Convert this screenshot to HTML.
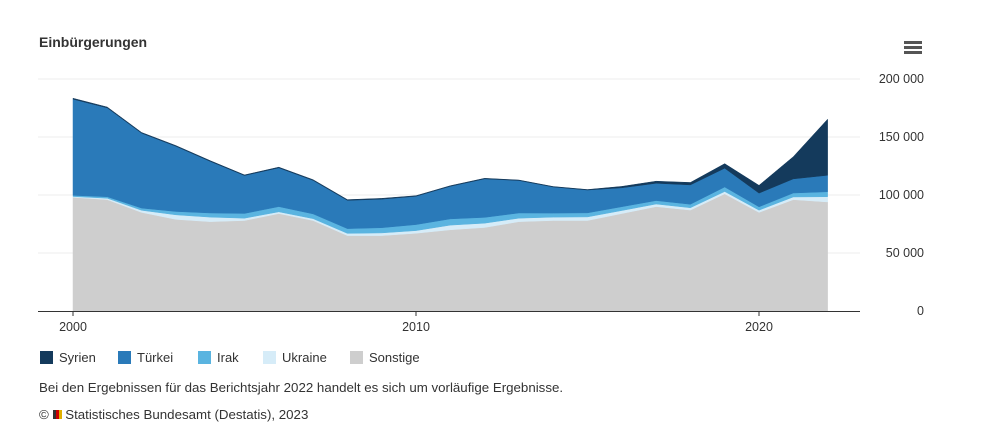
<!DOCTYPE html>
<html><head><meta charset="utf-8">
<style>
body{margin:0;background:#fff;font-family:"Liberation Sans",sans-serif;}
#wrap{position:relative;width:989px;height:448px;overflow:hidden;}
.t{position:absolute;font-size:13px;color:#333;}
</style></head>
<body>
<div id="wrap">
<div class="t" style="left:39px;top:34px;font-weight:bold;font-size:14px;color:#333">Einbürgerungen</div>
<div style="position:absolute;left:904px;top:41px;width:18px;height:14px;">
<div style="height:3px;background:#555;margin-bottom:2px"></div><div style="height:3px;background:#555;margin-bottom:2px"></div><div style="height:3px;background:#555"></div></div>
<svg id="svg" width="989" height="448" style="position:absolute;left:0;top:0"></svg>
<div>
<div class="t" style="left:40px;top:350px"><span style="display:inline-block;width:13px;height:13px;background:#143a5c;vertical-align:-2px;margin-right:6px"></span>Syrien</div>
<div class="t" style="left:118px;top:350px"><span style="display:inline-block;width:13px;height:13px;background:#2a7ab9;vertical-align:-2px;margin-right:6px"></span>Türkei</div>
<div class="t" style="left:198px;top:350px"><span style="display:inline-block;width:13px;height:13px;background:#5ab4e0;vertical-align:-2px;margin-right:6px"></span>Irak</div>
<div class="t" style="left:263px;top:350px"><span style="display:inline-block;width:13px;height:13px;background:#d6ecf8;vertical-align:-2px;margin-right:6px"></span>Ukraine</div>
<div class="t" style="left:350px;top:350px"><span style="display:inline-block;width:13px;height:13px;background:#cecece;vertical-align:-2px;margin-right:6px"></span>Sonstige</div>
</div>
<div class="t" style="left:39px;top:380px;font-size:13.3px">Bei den Ergebnissen für das Berichtsjahr 2022 handelt es sich um vorläufige Ergebnisse.</div>
<div class="t" style="left:39px;top:407px;font-size:13.3px">© <span style="display:inline-block;width:9px;height:9px;background:linear-gradient(90deg,#333 33%,#c00 33%,#c00 66%,#e0b000 66%)"></span> Statistisches Bundesamt (Destatis), 2023</div>
</div>
<script>
const years=[2000,2001,2002,2003,2004,2005,2006,2007,2008,2009,2010,2011,2012,2013,2014,2015,2016,2017,2018,2019,2020,2021,2022];
const sonstige=[98,96,85,79,77,78,84,78,65,65,67,70,72,77,78,78,84,90,87,101,85,96,94];
const ukraine=[0.7,1.2,1.8,3.9,3.9,2.0,1.5,1.6,1.9,2.3,2.3,4.0,3.7,3.0,2.9,3.1,2.6,2.2,2.0,2.0,1.9,2.3,4.5];
const irak=[1.0,1.3,1.9,2.9,3.6,4.1,4.5,4.1,4.1,4.5,5.2,5.4,5.0,4.5,3.5,3.5,3.3,3.0,3.0,3.9,2.9,3.4,4.3];
const tuerkei=[82.9,76.6,64.6,56.2,44.5,32.7,33.4,28.9,24.4,24.6,24.4,28.1,33.2,28.0,22.5,19.7,16.3,14.9,16.7,16.2,11.8,12.2,14.2];
const syrien=[0.8,0.7,0.6,0.6,0.6,0.5,0.6,0.6,0.6,0.7,0.5,0.5,0.5,0.4,0.4,0.4,1.2,1.8,2.1,3.9,6.7,19.1,48.3];
const yTicks=[0,50,100,150,200];
const yTickLabels=["0","50 000","100 000","150 000","200 000"];
const xTicks=[2000,2010,2020];
const series=[[sonstige,"#cecece","area-sonstige"],[ukraine,"#d6ecf8","area-ukraine"],[irak,"#5ab4e0","area-irak"],[tuerkei,"#2a7ab9","area-tuerkei"],[syrien,"#143a5c","area-syrien"]];
const x=v=>73+(v-2000)*34.3;
const y=v=>311-v*1.16;
const svg=document.getElementById('svg');
const NS="http://www.w3.org/2000/svg";
function mk(t,a){const e=document.createElementNS(NS,t);for(const k in a)e.setAttribute(k,a[k]);svg.appendChild(e);return e;}
yTicks.forEach((t,i)=>{
 if(t>0){const g=mk('line',{x1:38,x2:860,y1:y(t),y2:y(t),stroke:'#eeeeee','stroke-width':1});
 
 }
 const l=mk('text',{x:924,y:y(t)+4,'text-anchor':'end','font-size':12.5,fill:'#333','font-family':'Liberation Sans, sans-serif'});
 l.textContent=yTickLabels[i];
 
 
});
let base=years.map(()=>0);
series.forEach(([vals,col,name])=>{
 const top=base.map((b,i)=>b+vals[i]);
 let d='M'+years.map((yr,i)=>x(yr)+','+y(top[i])).join('L');
 for(let i=years.length-1;i>=0;i--)d+='L'+x(years[i])+','+y(base[i]);
 d+='Z';
 const p=mk('path',{d:d,fill:col,stroke:col,'stroke-width':0.5});
 
 
 base=top;
});
const ax=mk('line',{x1:38,x2:860,y1:311.5,y2:311.5,stroke:'#333','stroke-width':1});


xTicks.forEach(t=>{
 const tk=mk('line',{x1:x(t),x2:x(t),y1:311,y2:316,stroke:'#333'});
 
 
 const l=mk('text',{x:x(t),y:331,'text-anchor':'middle','font-size':12.5,fill:'#333','font-family':'Liberation Sans, sans-serif'});
 l.textContent=t;
 
 
});
</script>
</body></html>
